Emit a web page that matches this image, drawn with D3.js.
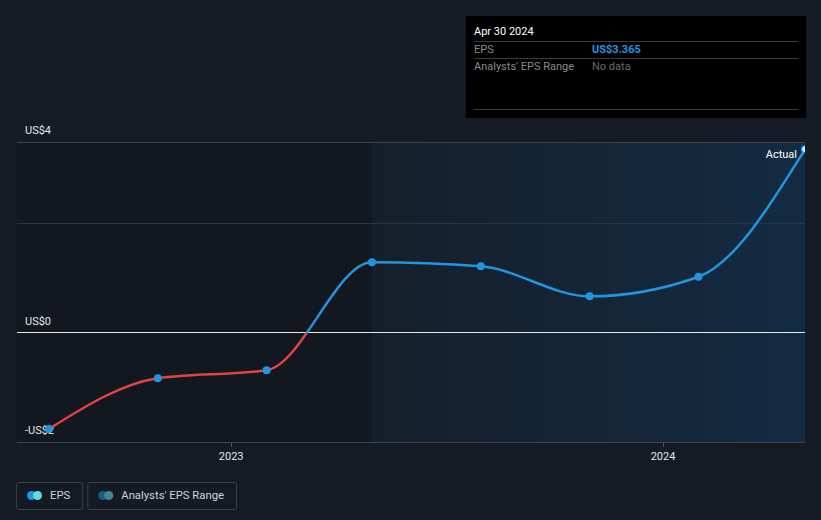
<!DOCTYPE html>
<html><head><meta charset="utf-8">
<script src="https://cdn.jsdelivr.net/npm/d3@7"></script>
<style>
html,body{margin:0;padding:0;background:#151b24;}
svg{display:block;font-family:Roboto,"Open Sans",sans-serif;}
</style></head>
<body><svg id="c" width="821" height="520"></svg>
<script>
const dates = ["2022-07-31","2022-10-31","2023-01-31","2023-04-30","2023-07-31","2023-10-31","2024-01-31","2024-04-30"];
const eps = [-1.76, -0.83, -0.685, 1.295, 1.22, 0.67, 1.03, 3.365];
const yTicks = [3.5, 2, 0, -2];
const yTickLabels = ["US$4", "", "US$0", "-US$2"];
const xTicks = ["2023-01-01","2024-01-01"];
const xTickLabels = ["2023","2024"];
const forecastStart = "2023-04-30";
const tooltip = {date:"Apr 30 2024", rows:[["EPS","US$3.365"],["Analysts' EPS Range","No data"]]};
const legendItems = [{label:"EPS", c1:"#2394df", c2:"#5fe0d2"},{label:"Analysts' EPS Range", c1:"#1d5d8a", c2:"#3f8a8c"}];

const parse = d3.utcParse("%Y-%m-%d");
const data = dates.map((d,i)=>({date:parse(d), v:eps[i]}));
const svg = d3.select("#c");
const L=17, R=805, T=142, B=442;
const x = d3.scaleUtc().domain([parse("2022-07-04"), parse("2024-04-30")]).range([L,R]);
const y = d3.scaleLinear().domain([-2,3.5]).range([B,T]);

const defs = svg.append("defs");
const g1 = defs.append("linearGradient").attr("id","fc").attr("x1","0").attr("x2","1").attr("y1","0").attr("y2","0");
g1.append("stop").attr("offset","0").attr("stop-color","#151f2b");
g1.append("stop").attr("offset","1").attr("stop-color","#132b42");

svg.append("rect").attr("x",L).attr("y",T).attr("width",x(parse(forecastStart))-L).attr("height",B-T).attr("fill","#13171f");
svg.append("rect").attr("x",x(parse(forecastStart))).attr("y",T).attr("width",R-x(parse(forecastStart))).attr("height",B-T).attr("fill","url(#fc)");

yTicks.forEach((t,i)=>{
  svg.append("line").attr("x1",L).attr("x2",R).attr("y1",y(t)).attr("y2",y(t))
    .attr("stroke", t===0 ? "#e8e8e8" : (i===1 ? "#2b3440" : "#3d4450")).attr("stroke-width",1).attr("shape-rendering","crispEdges");
  if (yTickLabels[i]) svg.append("text").attr("x",25).attr("y",y(t)-8).attr("fill","#e6e6e6").attr("font-size",11).text(yTickLabels[i]);
});

xTicks.forEach((t,i)=>{
  const xx = x(parse(t));
  svg.append("line").attr("x1",xx).attr("x2",xx).attr("y1",B).attr("y2",B+5).attr("stroke","#4a5260").attr("shape-rendering","crispEdges");
  svg.append("text").attr("x",xx).attr("y",B+18).attr("text-anchor","middle").attr("fill","#e6e6e6").attr("font-size",11).text(xTickLabels[i]);
});

const line = d3.line().x(d=>x(d.date)).y(d=>y(d.v)).curve(d3.curveMonotoneX);
defs.append("clipPath").attr("id","pos").append("rect").attr("x",0).attr("y",0).attr("width",R).attr("height",y(0));
defs.append("clipPath").attr("id","neg").append("rect").attr("x",0).attr("y",y(0)).attr("width",R).attr("height",520-y(0));
defs.append("clipPath").attr("id","plot").append("rect").attr("x",0).attr("y",0).attr("width",R).attr("height",520);
svg.append("path").datum(data).attr("d",line).attr("fill","none").attr("stroke","#2394df").attr("stroke-width",2.5).attr("clip-path","url(#pos)");
svg.append("path").datum(data).attr("d",line).attr("fill","none").attr("stroke","#e04444").attr("stroke-width",2.5).attr("clip-path","url(#neg)");

svg.append("g").attr("clip-path","url(#plot)").selectAll("circle").data(data).enter().append("circle")
  .attr("cx",d=>x(d.date)).attr("cy",d=>y(d.v)).attr("r",(d,i)=>i===data.length-1?3.5:4)
  .attr("fill",(d,i)=>i===data.length-1?"#dfeefa":"#2394df")
  .attr("stroke",(d,i)=>i===data.length-1?"#2394df":"none").attr("stroke-width",1.5);

const last = data[data.length-1];
svg.append("text").attr("x",x(last.date)-8).attr("y",y(last.v)+9).attr("text-anchor","end").attr("fill","#ffffff").attr("font-size",11).text("Actual");

const tb = svg.append("g");
tb.append("rect").attr("x",466).attr("y",16).attr("width",340).attr("height",102).attr("fill","#000000");
tb.append("text").attr("x",474).attr("y",35).attr("fill","#ffffff").attr("font-size",11).text(tooltip.date);
[41.5,58.5,109.5].forEach(yy=>tb.append("line").attr("x1",474).attr("x2",798).attr("y1",yy).attr("y2",yy).attr("stroke","#3a3a3a"));
tooltip.rows.forEach((r,i)=>{
  const yy = 52.5 + i*17.5;
  tb.append("text").attr("x",474).attr("y",yy).attr("fill","#8a8a8a").attr("font-size",11).text(r[0]);
  tb.append("text").attr("x",592).attr("y",yy).attr("fill",i===0?"#2394df":"#6a6a6a").attr("font-size",11).attr("font-weight",i===0?"bold":"normal").text(r[1]);
});

let lx = 16;
legendItems.forEach(it=>{
  const g = svg.append("g");
  const t = g.append("text").attr("x",lx+34).attr("y",499).attr("fill","#cfd2d6").attr("font-size",11.3).text(it.label);
  const w = t.node().getComputedTextLength() + 34 + 12;
  g.insert("rect","text").attr("x",lx+0.5).attr("y",482.5).attr("width",w).attr("height",27).attr("rx",2).attr("fill","none").attr("stroke","#3a404a");
  g.append("circle").attr("cx",lx+15.5).attr("cy",495.5).attr("r",4.5).attr("fill",it.c1);
  g.append("circle").attr("cx",lx+21.5).attr("cy",495.5).attr("r",4.5).attr("fill",it.c2);
  lx += w + 5;
});
</script></body></html>
